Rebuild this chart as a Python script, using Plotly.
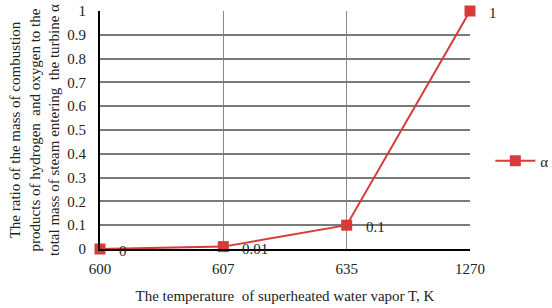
import plotly.graph_objects as go

categories = ["600", "607", "635", "1270"]
alpha_values = [0, 0.01, 0.1, 1]
label_texts = ["0", "0.01", "0.1", "1"]
y_ticks = [0, 0.1, 0.2, 0.3, 0.4, 0.5, 0.6, 0.7, 0.8, 0.9, 1]
y_tick_labels = ["0", "0.1", "0.2", "0.3", "0.4", "0.5", "0.6", "0.7", "0.8", "0.9", "1"]

RED = "#d83a3a"
FONT = "Liberation Serif"
TXT = "#222"
GRID = "#8a8a8a"
HGRID = "#7a7a7a"

fig = go.Figure()
fig.add_trace(go.Scatter(
    x=list(range(len(categories))), y=alpha_values, mode="lines+markers", name="α",
    line=dict(color=RED, width=2),
    marker=dict(symbol="square", size=11, color=RED),
    cliponaxis=False,
))

for i, (v, t) in enumerate(zip(alpha_values, label_texts)):
    fig.add_annotation(x=i, y=v, xref="x", yref="y", text=t, showarrow=False,
                       xanchor="left", yanchor="middle", xshift=17, yshift=-2,
                       font=dict(family=FONT, size=15, color=TXT))

fig.update_layout(
    template="none",
    width=552, height=308,
    margin=dict(l=100, r=82, t=11, b=59, pad=0, autoexpand=False),
    paper_bgcolor="white", plot_bgcolor="rgba(0,0,0,0)",
    font=dict(family=FONT, size=15, color=TXT),
    showlegend=True,
    legend=dict(x=1.055, y=0.37, xanchor="left", yanchor="middle",
                itemwidth=40,
                font=dict(family=FONT, size=15, color=TXT),
                bgcolor="rgba(0,0,0,0)", borderwidth=0),
    xaxis=dict(range=[0, 3], tickmode="array", automargin=False,
               tickvals=list(range(len(categories))), ticktext=categories,
               showgrid=True, gridcolor=GRID, gridwidth=1,
               zeroline=False,
               showline=True, linecolor="black", linewidth=2,
               ticks="", ticklabelstandoff=5,
               tickfont=dict(family=FONT, size=15, color=TXT),
               title=dict(text="The temperature  of superheated water vapor T, K",
                          font=dict(family=FONT, size=15, color=TXT),
                          standoff=14)),
    yaxis=dict(range=[0, 1], tickmode="array", tickvals=y_ticks, ticktext=y_tick_labels,
               automargin=False,
               showgrid=True, gridcolor=HGRID, gridwidth=1.5,
               showline=True, linecolor="black", linewidth=2,
               zeroline=False,
               ticks="", ticklabelstandoff=9,
               tickfont=dict(family=FONT, size=15, color=TXT),
               title=dict(text="The ratio of the mass of combustion<br>products of hydrogen  and oxygen to the<br>total mass of steam entering  the turbine α",
                          font=dict(family=FONT, size=15, color=TXT),
                          standoff=4)),
)

fig.write_html("out.html", config={"displayModeBar": False},
               post_script="document.body.style.margin='0';document.body.style.overflow='hidden';")
